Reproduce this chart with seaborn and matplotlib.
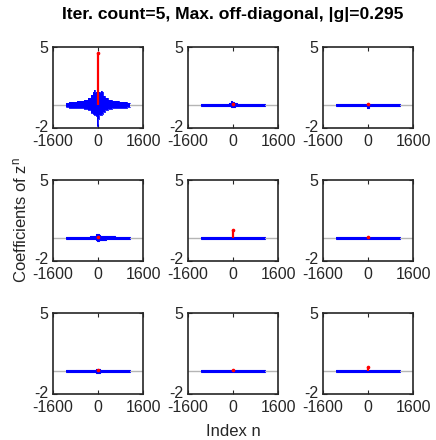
import numpy as np
import matplotlib
matplotlib.use("Agg")
import matplotlib.pyplot as plt
import matplotlib.transforms as mtransforms
import seaborn as sns

# first panel: envelope of the blue stems, read at these indices
main_pos = [-1150, -900, -600, -400, -300, -220, -160, -120, -80, -40, -20, 0,
            20, 40, 80, 120, 160, 220, 300, 400, 600, 900, 1150]
main_up = [0.20, 0.25, 0.30, 0.40, 0.55, 0.85, 1.10, 1.25, 1.00, 1.10, 1.00, 0.90,
           1.00, 1.10, 1.00, 1.20, 1.10, 0.80, 0.60, 0.40, 0.30, 0.25, 0.20]
main_lo = [-0.20, -0.25, -0.30, -0.35, -0.45, -0.70, -0.80, -0.90, -0.85, -1.00, -1.80, -1.80,
           -1.20, -0.90, -0.85, -0.90, -0.80, -0.65, -0.45, -0.35, -0.30, -0.25, -0.20]

# other panels (row-major, panels 2..9), envelope read at these indices
n_pos = [-1150, -800, -400, -200, -100, -40, 0, 40, 100, 200, 400, 800, 1150]
upper_env = [
    [0.08, 0.08, 0.08, 0.10, 0.15, 0.30, 0.25, 0.20, 0.15, 0.10, 0.08, 0.08, 0.08],
    [0.07, 0.07, 0.07, 0.08, 0.08, 0.10, 0.10, 0.10, 0.08, 0.08, 0.07, 0.07, 0.07],
    [0.07, 0.07, 0.08, 0.12, 0.15, 0.35, 0.35, 0.25, 0.20, 0.20, 0.14, 0.08, 0.07],
    [0.07, 0.07, 0.08, 0.08, 0.08, 0.10, 0.10, 0.10, 0.08, 0.08, 0.08, 0.07, 0.07],
    [0.07, 0.07, 0.07, 0.07, 0.08, 0.08, 0.08, 0.08, 0.08, 0.07, 0.07, 0.07, 0.07],
    [0.07, 0.07, 0.07, 0.08, 0.08, 0.12, 0.12, 0.12, 0.08, 0.08, 0.08, 0.07, 0.07],
    [0.07, 0.07, 0.07, 0.07, 0.07, 0.08, 0.08, 0.08, 0.07, 0.07, 0.07, 0.07, 0.07],
    [0.07, 0.07, 0.07, 0.07, 0.08, 0.08, 0.08, 0.08, 0.08, 0.07, 0.07, 0.07, 0.07],
]
lower_env = [
    [-0.08, -0.08, -0.08, -0.10, -0.10, -0.15, -0.15, -0.15, -0.10, -0.10, -0.08, -0.08, -0.08],
    [-0.07, -0.07, -0.07, -0.08, -0.08, -0.12, -0.30, -0.12, -0.08, -0.08, -0.07, -0.07, -0.07],
    [-0.07, -0.07, -0.08, -0.10, -0.10, -0.15, -0.25, -0.20, -0.20, -0.20, -0.14, -0.08, -0.07],
    [-0.07, -0.07, -0.08, -0.08, -0.08, -0.10, -0.12, -0.10, -0.08, -0.08, -0.08, -0.07, -0.07],
    [-0.07, -0.07, -0.07, -0.07, -0.08, -0.08, -0.08, -0.08, -0.08, -0.07, -0.07, -0.07, -0.07],
    [-0.07, -0.07, -0.07, -0.08, -0.08, -0.15, -0.22, -0.15, -0.08, -0.08, -0.08, -0.07, -0.07],
    [-0.07, -0.07, -0.07, -0.07, -0.07, -0.08, -0.08, -0.08, -0.07, -0.07, -0.07, -0.07, -0.07],
    [-0.07, -0.07, -0.07, -0.07, -0.08, -0.08, -0.08, -0.08, -0.08, -0.07, -0.07, -0.07, -0.07],
]
# red (centre) coefficient per panel, all nine
red_peak = [4.5, 0.10, 0.10, 0.10, 0.70, 0.05, 0.10, 0.05, 0.35]

x_ticks = [-1600, 0, 1600]
y_ticks = [-2, 5]
title = "Iter. count=5, Max. off-diagonal, |g|=0.295"

sns.set_theme(style="ticks")
plt.rcParams['font.family'] = ['Liberation Sans', 'DejaVu Sans']
plt.rcParams['mathtext.fontset'] = 'custom'
plt.rcParams['mathtext.rm'] = 'Liberation Sans'
plt.rcParams['mathtext.it'] = 'Liberation Sans'

fig = plt.figure(figsize=(4.36, 4.40), dpi=100)
W, H = 436.0, 440.0
lefts = [53, 188, 323]
tops = [47, 180, 313]
aw, ah = 90, 81
up_shift = mtransforms.ScaledTranslation(0, 2.5 / 100, fig.dpi_scale_trans)

for i in range(9):
    r, c = divmod(i, 3)
    ax = fig.add_axes([lefts[c] / W, 1 - (tops[r] + ah) / H, aw / W, ah / H])
    if i == 0:
        xs, up, lo, lw = main_pos, main_up, main_lo, 0.6
    else:
        xs, up, lo, lw = n_pos, upper_env[i - 1], lower_env[i - 1], 0.8
    ax.axhline(0, color='#b5b5b5', lw=1.0, zorder=1)
    ax.fill_between(xs, lo, up, step='mid', color='#0000ff', lw=0, zorder=2)
    sns.lineplot(x=xs, y=up, ax=ax, color='#0000ff', lw=lw,
                 drawstyle='steps-mid', zorder=3)
    sns.lineplot(x=xs, y=lo, ax=ax, color='#0000ff', lw=lw,
                 drawstyle='steps-mid', zorder=3)
    ax.vlines(0, 0, red_peak[i], color='#ff0000', lw=1.6, zorder=4)
    ax.plot([0], [red_peak[i]], 'o', color='#ff0000', ms=1.6, zorder=4)

    ax.set_xlim(-1600, 1600)
    ax.set_ylim(-2, 5)
    ax.set_xticks(x_ticks)
    ax.set_yticks(y_ticks)
    ax.set_xticklabels([str(t) for t in x_ticks])
    ax.set_yticklabels([str(t) for t in y_ticks])
    ax.tick_params(direction='in', top=True, right=True, length=3,
                   width=0.8, labelsize=11.5, colors='#262626')
    ax.tick_params(axis='x', pad=4.5)
    ax.tick_params(axis='y', pad=3.5)
    lab = ax.get_yticklabels()[0]
    lab.set_transform(lab.get_transform() + up_shift)
    for s in ax.spines.values():
        s.set_color('#262626')
        s.set_linewidth(1.2)
    ax.set_xlabel('')
    ax.set_ylabel('')

fig.text(233 / W, 1 - 15 / H, title, ha='center', va='center',
         fontsize=12.6, fontweight='bold', color='black')
fig.text(233 / W, 1 - 431 / H, 'Index n', ha='center', va='center',
         fontsize=12, color='#262626')
fig.text(20 / W, 0.5, 'Coefficients of z$^{n}$', ha='center', va='center',
         rotation=90, fontsize=12, color='#262626')

plt.savefig('out.png', dpi=100)
